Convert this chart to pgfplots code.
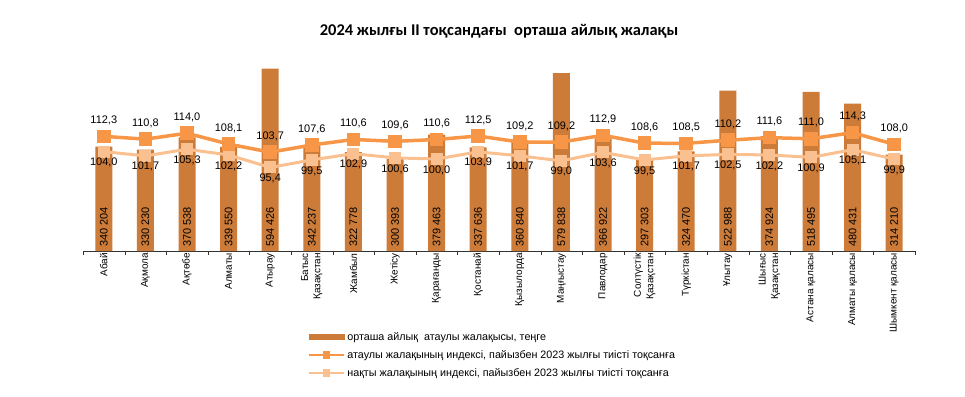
\documentclass[border=0pt]{standalone}
\usepackage{fontspec}
\setmainfont{Liberation Sans}
\newfontfamily\titlefont{Carlito}
\usepackage{pgfplots}
\pgfplotsset{compat=1.18}
\definecolor{barcol}{RGB}{205,123,56}
\definecolor{nomcol}{RGB}{247,150,70}
\definecolor{realcol}{RGB}{250,192,144}
\pgfplotsset{
  barleg/.style={legend image code/.code={\fill[barcol] (0bp,-2.5bp) rectangle (35bp,2.5bp);}},
  lineleg/.style={legend image code/.code={\draw[mark repeat=2, mark phase=2, ##1] plot coordinates {(0bp,0bp) (17.5bp,0bp) (35bp,0bp)};}},
}
\begin{document}
\begin{tikzpicture}
\useasboundingbox (-83bp,-146bp) rectangle (882bp,251bp);
\begin{axis}[
  scale only axis, width=832bp, height=184bp,
  xmin=-0.5, xmax=19.5, ymin=0, ymax=600000,
  axis y line=none, axis x line*=bottom,
  axis line style={-, black!80},
  xtick={0,...,19}, major tick length=0pt,
  xticklabels={Абай, Ақмола, Ақтөбе, Алматы, Атырау, Батыс\\Қазақстан, Жамбыл, Жетісу, Қарағанды, Қостанай, Қызылорда, Маңғыстау, Павлодар, Солтүстік\\Қазақстан, Түркістан, Ұлытау, Шығыс\\Қазақстан, Астана қаласы, Алматы қаласы, Шымкент қаласы},
  x tick label style={rotate=90, anchor=east, align=right, inner sep=2bp, font=\fontsize{10}{12.5}\selectfont},
  extra x ticks={-0.5,0.5,...,19.5}, extra x tick labels={},
  extra x tick style={major tick length=4bp, tick align=outside, tick style={black!80}},
  clip=false,
  title={\titlefont\bfseries\fontsize{16.5}{20}\selectfont 2024 жылғы II тоқсандағы\ \ орташа айлық жалақы},
  title style={at={(0.5,1)}, anchor=center, yshift=30bp},
]
\addplot[ybar, bar width=17bp, bar shift=0pt, fill=barcol, draw=none] coordinates {
(0,340204) (1,330230) (2,370538) (3,339550) (4,594426) (5,342237) (6,322778) (7,300393) (8,379463) (9,337636)
(10,360840) (11,579838) (12,366922) (13,297303) (14,324470) (15,522988) (16,374924) (17,518495) (18,480431) (19,314210)};
\addplot[draw=none, mark=none, nodes near coords, point meta=explicit symbolic,
  every node near coord/.style={rotate=90, anchor=west, inner xsep=4bp, inner ysep=0pt, font=\fontsize{11}{13}\selectfont, text=black}] coordinates {
(0,0) [340 204] (1,0) [330 230] (2,0) [370 538] (3,0) [339 550] (4,0) [594 426] (5,0) [342 237] (6,0) [322 778] (7,0) [300 393] (8,0) [379 463] (9,0) [337 636]
(10,0) [360 840] (11,0) [579 838] (12,0) [366 922] (13,0) [297 303] (14,0) [324 470] (15,0) [522 988] (16,0) [374 924] (17,0) [518 495] (18,0) [480 431] (19,0) [314 210]};
\end{axis}
\begin{axis}[
  scale only axis, width=832bp, height=184bp,
  xmin=-0.5, xmax=19.5, ymin=50, ymax=150,
  hide axis, clip=false,
  /pgf/number format/use comma, /pgf/number format/fixed, /pgf/number format/fixed zerofill, /pgf/number format/precision=1, /pgf/number format/assume math mode=true,
  legend style={at={(0.27,-0.43)}, anchor=north west, draw=none, fill=none, font=\fontsize{10.8}{13}\selectfont, row sep=4.5bp, cells={anchor=west}, inner sep=0pt},
]
\addlegendimage{barleg}
\addlegendentry{орташа айлық\ \ атаулы жалақысы, теңге}
\addlegendimage{nomcol, line width=2.5bp, mark=square*, mark size=2.5bp, mark options={fill=nomcol, draw=nomcol}, lineleg}
\addlegendentry{атаулы жалақының индексі, пайызбен 2023 жылғы тиісті тоқсанға}
\addlegendimage{realcol, line width=2.5bp, mark=square*, mark size=2.5bp, mark options={fill=realcol, draw=realcol}, lineleg}
\addlegendentry{нақты жалақының индексі, пайызбен 2023 жылғы тиісті тоқсанға}
\addplot[realcol, line width=3bp, mark=square*, mark size=4.5bp, mark options={fill=realcol, draw=realcol}, nodes near coords,
  every node near coord/.style={anchor=center, yshift=-11bp, inner sep=0pt, font=\fontsize{11}{13}\selectfont, text=black}, forget plot] coordinates {
(0,104.0) (1,101.7) (2,105.3) (3,102.2) (4,95.4) (5,99.5) (6,102.9) (7,100.6) (8,100.0) (9,103.9)
(10,101.7) (11,99.0) (12,103.6) (13,99.5) (14,101.7) (15,102.5) (16,102.2) (17,100.9) (18,105.1) (19,99.9)};
\addplot[nomcol, line width=3.5bp, mark=square*, mark size=5bp, mark options={fill=nomcol, draw=nomcol}, nodes near coords,
  every node near coord/.style={anchor=center, yshift=16bp, inner sep=0pt, font=\fontsize{11}{13}\selectfont, text=black}, forget plot] coordinates {
(0,112.3) (1,110.8) (2,114.0) (3,108.1) (4,103.7) (5,107.6) (6,110.6) (7,109.6) (8,110.6) (9,112.5)
(10,109.2) (11,109.2) (12,112.9) (13,108.6) (14,108.5) (15,110.2) (16,111.6) (17,111.0) (18,114.3) (19,108.0)};
\end{axis}
\end{tikzpicture}
\end{document}
